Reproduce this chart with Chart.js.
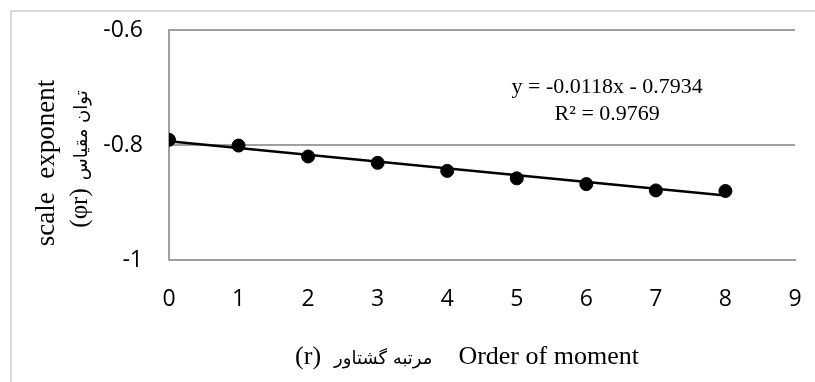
<!DOCTYPE html>
<html>
<head>
<meta charset="utf-8">
<script src="https://cdn.jsdelivr.net/npm/chart.js@4"></script>
<style>
  html, body { margin: 0; padding: 0; background: #ffffff; }
  #wrap { width: 815px; height: 382px; position: relative; }
</style>
</head>
<body>
<div id="wrap"><canvas id="chart" width="815" height="382"></canvas></div>
<script>
// Order of moment r and the measured scale exponent φ(r)
const orders = [0, 1, 2, 3, 4, 5, 6, 7, 8];
const exponents = [-0.791, -0.801, -0.820, -0.831, -0.845, -0.858, -0.868, -0.879, -0.880];

// Linear trendline as reported on the chart
const trendSlope = -0.0118;
const trendIntercept = -0.7934;
const trendR2 = 0.9769;

// Axis ranges and tick steps
const xRange = [0, 9];
const xStep = 1;
const yRange = [-1, -0.6];
const yStep = 0.2;

const points = orders.map((r, i) => ({ x: r, y: exponents[i] }));
const trendEnds = [orders[0], orders[orders.length - 1]];
const trendPoints = trendEnds.map(r => ({ x: r, y: trendSlope * r + trendIntercept }));

const eqLine1 = 'y = ' + trendSlope.toFixed(4) + 'x - ' + Math.abs(trendIntercept).toFixed(4);
const eqLine2 = 'R\u00B2 = ' + trendR2.toFixed(4);

const SERIF = "'Liberation Serif', 'Times New Roman', serif";
const ARABIC = "'DejaVu Sans', 'Noto Sans', sans-serif";
const GRID = '#a0a0a0';

// Frame, axis titles and the trendline equation
const decor = {
  id: 'decor',
  beforeDraw(chart) {
    const ctx = chart.ctx;
    ctx.save();
    ctx.strokeStyle = '#d9d9d9';
    ctx.lineWidth = 2;
    ctx.beginPath();
    ctx.moveTo(11, chart.height);
    ctx.lineTo(11, 11);
    ctx.lineTo(chart.width, 11);
    ctx.stroke();
    ctx.restore();
  },
  afterDraw(chart) {
    const ctx = chart.ctx;
    const a = chart.chartArea;
    ctx.save();
    ctx.fillStyle = '#000000';

    // equation box
    ctx.textAlign = 'center';
    ctx.textBaseline = 'alphabetic';
    ctx.font = '22px ' + SERIF;
    const ex = a.left + (a.right - a.left) * 0.70;
    ctx.fillText(eqLine1, ex, a.top + 63);
    ctx.fillText(eqLine2, ex, a.top + 90);

    // x axis title: "(r) مرتبه گشتاور   Order of moment"
    const xParts = [
      { t: '(r)', f: '26px ' + SERIF, gap: 13 },
      { t: 'مرتبه گشتاور', f: '18px ' + ARABIC, gap: 26 },
      { t: 'Order of moment', f: '26px ' + SERIF, gap: 0 }
    ];
    let total = 0;
    xParts.forEach(p => { ctx.font = p.f; p.w = ctx.measureText(p.t).width; total += p.w + p.gap; });
    let cx = (a.left + a.right) / 2 - 15 - total / 2;
    const xBase = a.bottom + 104;
    ctx.textAlign = 'left';
    xParts.forEach(p => { ctx.font = p.f; ctx.fillText(p.t, cx, xBase); cx += p.w + p.gap; });

    // y axis title, two rotated lines
    const midY = (a.top + a.bottom) / 2;
    ctx.save();
    ctx.translate(54, midY + 18);
    ctx.rotate(-Math.PI / 2);
    ctx.textAlign = 'center';
    ctx.font = '27px ' + SERIF;
    ctx.fillText('scale  exponent', 0, 0);
    ctx.restore();

    const yParts = [
      { t: '(\u03C6r)', f: '25px ' + SERIF, gap: 8 },
      { t: 'توان مقیاس', f: '18px ' + ARABIC, gap: 0 }
    ];
    total = 0;
    yParts.forEach(p => { ctx.font = p.f; p.w = ctx.measureText(p.t).width; total += p.w + p.gap; });
    ctx.save();
    ctx.translate(87, midY + 14);
    ctx.rotate(-Math.PI / 2);
    ctx.textAlign = 'left';
    let cy = -total / 2;
    yParts.forEach(p => { ctx.font = p.f; ctx.fillText(p.t, cy, 0); cy += p.w + p.gap; });
    ctx.restore();

    ctx.restore();
  }
};

new Chart(document.getElementById('chart'), {
  type: 'scatter',
  data: {
    datasets: [
      {
        label: 'trend',
        type: 'line',
        data: trendPoints,
        borderColor: '#000000',
        borderWidth: 2.5,
        pointRadius: 0,
        fill: false,
        order: 0
      },
      {
        label: 'φ(r)',
        data: points,
        backgroundColor: '#000000',
        borderColor: '#000000',
        pointRadius: 6.5,
        pointHoverRadius: 6.5,
        order: 1
      }
    ]
  },
  options: {
    responsive: false,
    animation: false,
    events: [],
    layout: { padding: { top: 30, right: 20, left: 0, bottom: 0 } },
    plugins: {
      legend: { display: false },
      tooltip: { enabled: false },
      title: { display: false }
    },
    scales: {
      x: {
        type: 'linear',
        min: xRange[0],
        max: xRange[1],
        ticks: {
          stepSize: xStep,
          color: '#000000',
          padding: 26,
          font: { family: "'Open Sans', sans-serif", size: 23 }
        },
        grid: { display: false, drawTicks: false },
        border: { display: true, color: GRID, width: 2 },
        afterFit(scale) {
          scale.height = 122;
          scale.paddingLeft = 0;
          scale.paddingRight = 0;
        }
      },
      y: {
        type: 'linear',
        min: yRange[0],
        max: yRange[1],
        ticks: {
          stepSize: yStep,
          color: '#000000',
          padding: 26,
          font: { family: "'Open Sans', sans-serif", size: 23 },
          callback: v => String(Math.round(v * 10) / 10)
        },
        grid: { color: GRID, lineWidth: 2, drawTicks: false },
        border: { display: true, color: GRID, width: 2 },
        afterFit(scale) {
          scale.width = 169;
          scale.paddingTop = 0;
          scale.paddingBottom = 0;
        }
      }
    }
  },
  plugins: [decor]
});
</script>
</body>
</html>
